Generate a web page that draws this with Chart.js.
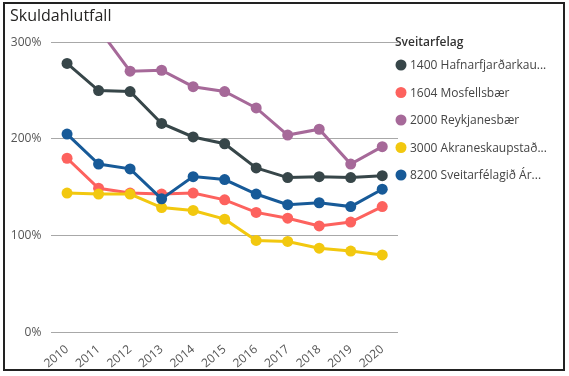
<!DOCTYPE html>
<html>
<head>
<meta charset="utf-8">
<script src="https://cdn.jsdelivr.net/npm/chart.js@4"></script>
<style>
  html, body { margin: 0; padding: 0; background: #fff; }
  #wrap { position: relative; width: 569px; height: 376px; }
  #frame { position: absolute; left: 3px; top: 2px; width: 562px; height: 369px; border: 2px solid #222; box-sizing: border-box; pointer-events: none; }
</style>
</head>
<body>
<div id="wrap">
  <canvas id="skuldir" width="569" height="376"></canvas>
  <div id="frame"></div>
</div>
<script>
const years = ['2010', '2011', '2012', '2013', '2014', '2015', '2016', '2017', '2018', '2019', '2020'];
const seriesNames = ['1400 Hafnarfjarðarkau...', '1604 Mosfellsbær', '2000 Reykjanesbær', '3000 Akraneskaupstað...', '8200 Sveitarfélagið Ár...'];
const seriesColors = ['#374649', '#FD625E', '#A66999', '#F2C80F', '#175A98'];

const hafnarfjordur = [278, 250, 249, 216, 202, 195, 170, 160, 161, 160, 162];
const mosfellsbaer = [180, 149, 144, 143, 144, 137, 124, 118, 110, 114, 130];
const reykjanesbaer = [null, 314, 270, 271, 254, 249, 232, 204, 210, 174, 192];
const akranes = [144, 143, 143, 129, 126, 117, 95, 94, 87, 84, 80];
const arborg = [205, 174, 169, 138, 161, 158, 143, 132, 134, 130, 148];

const yTicks = [0, 100, 200, 300];

const FONT = "'Open Sans', sans-serif";

// legend drawn by hand so it can sit right next to the plot like the original
const sideLegend = {
    id: 'sideLegend',
    afterDraw(chart) {
        const ctx = chart.ctx;
        ctx.save();
        ctx.textBaseline = 'middle';
        ctx.fillStyle = '#333';
        ctx.font = "600 12px " + FONT;
        ctx.fillText('Sveitarfelag', 395, 43);
        ctx.font = "12px " + FONT;
        chart.data.datasets.forEach((ds, i) => {
            const y = 65 + i * 27.5;
            ctx.beginPath();
            ctx.fillStyle = ds.borderColor;
            ctx.arc(401, y, 5.5, 0, Math.PI * 2);
            ctx.fill();
            ctx.fillStyle = '#444';
            ctx.fillText(ds.label, 410, y + 1);
        });
        ctx.restore();
    }
};

const allSeries = [hafnarfjordur, mosfellsbaer, reykjanesbaer, akranes, arborg];

const skuldirChart = new Chart(document.getElementById('skuldir'), {
    type: 'line',
    data: {
        labels: years,
        datasets: allSeries.map((vals, i) => ({
            label: seriesNames[i],
            data: vals,
            borderColor: seriesColors[i],
            backgroundColor: seriesColors[i],
            borderWidth: 3,
            pointRadius: 5.5,
            pointBorderWidth: 0,
            tension: 0,
            order: allSeries.length - i
        }))
    },
    options: {
        responsive: false,
        animation: false,
        layout: {
            padding: { left: 10, right: 171, top: 0, bottom: 3 }
        },
        scales: {
            x: {
                offset: true,
                grid: { display: false },
                border: { display: false },
                ticks: {
                    color: '#555',
                    font: { family: FONT, size: 12 },
                    minRotation: 40,
                    maxRotation: 40,
                    padding: 2
                }
            },
            y: {
                min: 0,
                max: 300,
                afterBuildTicks(scale) {
                    scale.ticks = yTicks.map(v => ({ value: v }));
                },
                afterFit(scale) {
                    // chart.js reserves padding twice, trim it back
                    scale.width = 41.3;
                },
                grid: { color: '#a8a8a8', drawTicks: false },
                border: { display: false },
                ticks: {
                    color: '#555',
                    font: { family: FONT, size: 12 },
                    padding: 10,
                    callback: v => v + '%'
                }
            }
        },
        plugins: {
            legend: { display: false },
            tooltip: { enabled: false },
            title: {
                display: true,
                text: 'Skuldahlutfall',
                align: 'start',
                color: '#252423',
                font: { family: FONT, size: 16, weight: 'normal' },
                padding: { top: 7, bottom: 16 }
            }
        }
    },
    plugins: [sideLegend]
});
</script>
</body>
</html>
